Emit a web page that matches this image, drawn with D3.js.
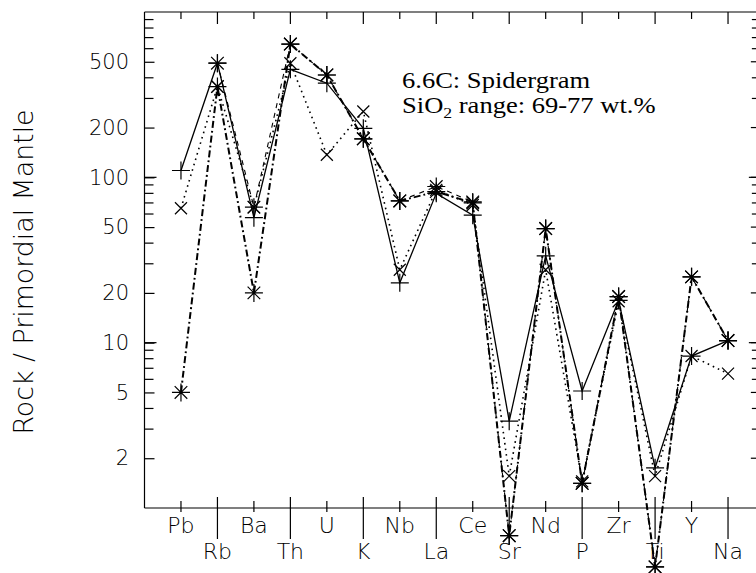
<!DOCTYPE html>
<html>
<head>
<meta charset="utf-8">
<script src="https://cdn.jsdelivr.net/npm/d3@7"></script>
<style>
  html, body { margin: 0; padding: 0; background: #fff; }
  svg { display: block; }
</style>
</head>
<body>
<svg id="chart" width="756" height="573"></svg>
<script>
// ---- data ----
const categories = ["Pb","Rb","Ba","Th","U","K","Nb","La","Ce","Sr","Nd","P","Zr","Ti","Y","Na"];
const solidPlus   = [110, 490, 57, 450, 371, 198, 23, 80, 59, 3.35, 33.5, 5.1, 18, 1.75, 8.3, 10.3];
const dottedCross = [65, 354, 66, 490, 137, 250, 27.6, 84, 68, 1.56, 27.6, 1.45, 17.8, 1.56, 8.3, 6.5];
const dashDotStar = [5, 354, 20, 640, 416, 171, 72, 82, 70, 0.68, 49, 1.41, 19, 0.44, 25, 10.3];
const dashedStar  = [null, 490, 66, 640, 416, 171, 72, 88, 71, 0.68, 49, 1.41, 19, 0.44, 25, 10.3];
const labeledTicks = [2, 5, 10, 20, 50, 100, 200, 500];
const decadeTicks = [10, 100];
const minorTicks = [3,4,6,7,8,9, 30,40,60,70,80,90, 300,400,600,700,800,900];
const titleLine1 = "6.6C: Spidergram";
const yTitle = "Rock / Primordial Mantle";

// ---- scales ----
const x = d3.scaleLinear().domain([-1, 16]).range([144.5, 764.5]);
const y = d3.scaleLog().domain([1, 1000]).range([508, 12]);
const xL = x(-1), xR = x(15.9), yT = y(1000), yB = y(1);

const svg = d3.select("#chart");
const FONT = "'DejaVu Sans', sans-serif";
const ink = "#000";

// ---- frame ----
const frame = svg.append("g").attr("stroke", ink).attr("stroke-width", 1.2).attr("fill", "none");
frame.append("line").attr("x1", xL).attr("x2", xR).attr("y1", yT).attr("y2", yT);
frame.append("line").attr("x1", xL).attr("x2", xR).attr("y1", yB).attr("y2", yB);
frame.append("line").attr("x1", xL).attr("x2", xL).attr("y1", yT).attr("y2", yB);
frame.append("line").attr("x1", xR).attr("x2", xR).attr("y1", yT).attr("y2", yB);

// ---- y axis (left, inward ticks) ----
const yAxis = d3.axisLeft(y).tickValues(labeledTicks).tickSize(-10).tickSizeOuter(0)
  .tickPadding(15.5).tickFormat(d3.format("d"));
const gy = svg.append("g").attr("transform", `translate(${xL},0)`).call(yAxis);
gy.select(".domain").remove();
gy.selectAll("line").attr("stroke", ink).attr("stroke-width", 1.2);
gy.selectAll("text").attr("font-family", FONT).attr("font-size", 21).attr("font-weight", 300).attr("fill", ink);

function tickLines(vals, len, side) {
  const g = svg.append("g").attr("stroke", ink).attr("stroke-width", 1.2);
  g.selectAll("line").data(vals).join("line")
    .attr("x1", side === "left" ? xL : xR)
    .attr("x2", side === "left" ? xL + len : xR - len)
    .attr("y1", d => y(d)).attr("y2", d => y(d));
}
tickLines(decadeTicks, 12, "left");
tickLines(minorTicks, 9, "left");
tickLines(labeledTicks, 10, "right");
tickLines(decadeTicks, 12, "right");
tickLines(minorTicks, 9, "right");

// ---- x axis ticks ----
const idx = categories.map((c, i) => i);
const xt = svg.append("g").attr("stroke", ink).attr("stroke-width", 1.2);
xt.selectAll("line.top").data(idx).join("line").attr("class", "top")
  .attr("x1", d => x(d)).attr("x2", d => x(d))
  .attr("y1", yT).attr("y2", d => yT + (d % 2 ? 12 : 7));
xt.selectAll("line.bot").data(idx).join("line").attr("class", "bot")
  .attr("x1", d => x(d)).attr("x2", d => x(d))
  .attr("y1", d => yB - (d % 2 ? 11 : 7)).attr("y2", d => yB + (d % 2 ? 31 : 4));

svg.append("g").selectAll("text").data(categories).join("text")
  .attr("x", (d, i) => x(i))
  .attr("y", (d, i) => i % 2 ? 559 : 533)
  .attr("text-anchor", "middle")
  .attr("font-family", FONT).attr("font-size", 22).attr("font-weight", 300).attr("fill", ink)
  .text(d => d);

// ---- y title ----
svg.append("text")
  .attr("transform", `translate(33,272) rotate(-90)`)
  .attr("text-anchor", "middle")
  .attr("font-family", FONT).attr("font-size", 26.8).attr("font-weight", 300).attr("fill", ink)
  .text(yTitle);

// ---- series ----
const series = [
  { values: solidPlus,   dash: null,          width: 1.3, marker: "plus" },
  { values: dottedCross, dash: "1.6,4",       width: 1.6, marker: "cross" },
  { values: dashDotStar, dash: "7,3,1.8,3",   width: 2.0, marker: "star" },
  { values: dashedStar,  dash: "5,5",         width: 1.1, marker: "star" }
];
const markerPath = {
  plus: "M-9,0H9M0,-9V9",
  cross: "M-6,-6L6,6M-6,6L6,-6",
  star: "M-9,0H9M0,-9V9M-6.3,-6.3L6.3,6.3M-6.3,6.3L6.3,-6.3"
};
const line = d3.line().defined(d => d.v != null).x(d => x(d.i)).y(d => y(d.v));

series.forEach(s => {
  const pts = s.values.map((v, i) => ({ v, i }));
  svg.append("path").datum(pts)
    .attr("d", line).attr("fill", "none").attr("stroke", ink)
    .attr("stroke-width", s.width)
    .attr("stroke-dasharray", s.dash);
});
series.forEach(s => {
  const pts = s.values.map((v, i) => ({ v, i })).filter(d => d.v != null);
  svg.append("g").selectAll("path").data(pts).join("path")
    .attr("transform", d => `translate(${x(d.i)},${y(d.v)})`)
    .attr("d", markerPath[s.marker])
    .attr("fill", "none").attr("stroke", ink).attr("stroke-width", 1.2);
});

// ---- annotation ----
const ann = svg.append("g").attr("transform", "translate(402,0) scale(1.18,1)")
  .attr("font-family", "'Liberation Serif', 'Times New Roman', serif")
  .attr("font-size", 22.5).attr("fill", ink);
ann.append("text").attr("x", 0).attr("y", 88).text(titleLine1);
const t2 = ann.append("text").attr("x", 0).attr("y", 113.5);
t2.append("tspan").text("SiO");
t2.append("tspan").attr("font-size", 15).attr("dy", 5).text("2");
t2.append("tspan").attr("dy", -5).text(" range: 69-77 wt.%");
</script>
</body>
</html>
